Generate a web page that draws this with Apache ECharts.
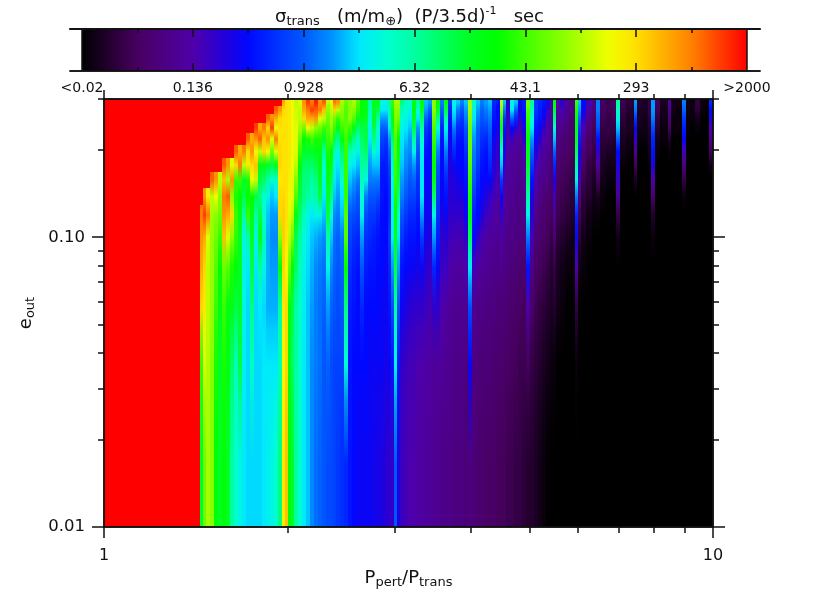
<!DOCTYPE html>
<html>
<head>
<meta charset="utf-8">
<title>sigma trans</title>
<script src="https://cdn.jsdelivr.net/npm/echarts@6/dist/echarts.min.js"></script>
<style>
  html, body { margin: 0; background: #fff; }
  #chart { width: 830px; height: 593px; }
</style>
</head>
<body>
<div id="chart"></div>
<script>
// tick labels
const colourbarLabels = ["<0.02", "0.136", "0.928", "6.32", "43.1", "293", ">2000"];
const periodMajor = [1, 10];
const periodMinor = [2, 3, 4, 5, 6, 7, 8, 9];
const eccMajor = [0.01, 0.1];
const eccMinor = [0.02, 0.03, 0.04, 0.05, 0.06, 0.07, 0.08, 0.09, 0.2, 0.3];

// colourbar, black to red (evenly spaced along the bar)
const colourStops = ["#000000", "#240030", "#480060", "#4c0084", "#5000a8", "#2800d4", "#0008ff", "#0030ff", "#0058ff",
  "#0090ff", "#00e8ff", "#00ffd0", "#00ffa0", "#00ff60", "#00ff20", "#00ff00", "#40ff00", "#78ff00", "#b0ff00",
  "#f0ff00", "#ffe000", "#ffb000", "#ff8000", "#ff4000", "#ff0000"];

// cell edges
const periodEdges = [1, 1.438, 1.454, 1.471, 1.493, 1.516, 1.539, 1.562, 1.586, 1.61, 1.635, 1.66, 1.685, 1.711, 1.737,
  1.763, 1.79, 1.818, 1.845, 1.874, 1.902, 1.931, 1.961, 1.983, 2.005, 2.028, 2.051, 2.083, 2.114, 2.146, 2.179,
  2.212, 2.246, 2.28, 2.315, 2.35, 2.377, 2.404, 2.44, 2.478, 2.515, 2.554, 2.593, 2.632, 2.672, 2.713, 2.755,
  2.797, 2.839, 2.883, 2.927, 2.96, 2.994, 3.028, 3.063, 3.109, 3.157, 3.205, 3.254, 3.303, 3.354, 3.405, 3.457,
  3.51, 3.563, 3.617, 3.673, 3.729, 3.786, 3.843, 3.902, 3.961, 4.022, 4.083, 4.145, 4.208, 4.273, 4.338, 4.404,
  4.471, 4.522, 4.574, 4.643, 4.714, 4.786, 4.859, 4.933, 5.008, 5.085, 5.162, 5.241, 5.321, 5.402, 5.464, 5.526,
  5.61, 5.717, 5.826, 5.937, 6.004, 6.073, 6.188, 6.33, 6.426, 6.524, 6.674, 6.827, 6.931, 7.037, 7.198, 7.419,
  7.504, 7.647, 7.823, 7.912, 8.033, 8.186, 8.374, 8.437, 8.533, 8.696, 8.895, 9.031, 9.169, 9.344, 9.522, 9.704,
  9.852, 10];
const eccEdges = [0.3, 0.283, 0.2655, 0.2472, 0.2284, 0.2076, 0.187, 0.1675, 0.1475, 0.129, 0.11, 0.0902, 0.0683,
  0.0478, 0.0274, 0.01];

// sigma as % along the log colourbar, one line per period column, top row first
// (0 = <0.02, 100 = >2000; rows left off are 0)
const sigmaLevels = [
  [100,100,100,100,100,100,100,100,100,100,100,100,100,100,100],
  [100,100,100,100,100,100,100,100,100,92,90,88,84,66,58],
  [100,100,100,100,100,100,100,100,90,96,88,84,82,78,70],
  [100,100,100,100,100,100,100,100,82,92,78,76,76,75,74],
  [100,100,100,100,100,100,100,94,76,74,73,73,73,72,72],
  [100,100,100,100,100,100,100,90,80,72,70,68,66,64,62],
  [100,100,100,100,100,100,100,76,72,70,66,62,60,58,58],
  [100,100,100,100,100,100,94,86,92,90,86,70,66,64,62],
  [100,100,100,100,100,100,90,74,94,88,78,68,60,60,58],
  [100,100,100,100,100,100,78,90,72,84,72,64,60,54,50],
  [100,100,100,100,100,94,84,66,64,66,66,62,56,48,46],
  [100,100,100,100,100,88,92,66,62,60,58,58,58,56,44],
  [100,100,100,100,100,92,76,58,56,50,44,44,44,43,42],
  [100,100,100,100,94,84,82,64,62,66,50,42,41,41,41],
  [100,100,100,100,88,90,84,80,62,60,58,56,52,47,41],
  [100,100,100,96,90,80,86,76,56,50,44,42,41,41,41],
  [100,100,100,88,94,76,60,56,52,56,60,50,42,41,41],
  [100,100,100,92,86,84,60,54,46,46,48,44,41,42,42],
  [100,100,94,84,90,80,58,50,44,40,39,39,39,42,43],
  [100,100,90,96,78,70,56,46,40,38,37,38,39,42,44],
  [100,94,88,80,92,78,60,46,42,38,37,38,39,42,46],
  [100,90,84,83,83,84,84,82,84,84,72,60,50,48,52],
  [88,84,83,83,83,83,83,83,84,85,85,84,82,80,82],
  [83,83,83,83,83,83,83,83,83,83,82,80,84,84,86],
  [82,82,82,82,82,82,82,81,80,78,76,70,62,60,62],
  [80,80,80,80,80,80,79,78,78,76,70,62,56,54,58],
  [76,77,77,78,78,78,76,72,68,60,56,54,50,50,50],
  [78,76,76,74,70,66,62,58,56,54,50,48,46,46,46],
  [90,88,84,70,62,58,54,52,52,48,45,44,43,42,42],
  [96,92,88,80,64,58,54,52,50,44,42,41,40,40,40],
  [92,96,88,76,66,58,54,50,48,42,40,39,38,37,37],
  [98,94,90,72,64,60,56,52,50,44,39,37,36,36,35],
  [90,92,78,70,64,60,60,58,56,44,38,36,35,35,34],
  [94,86,76,66,58,50,46,44,42,40,37,35,34,33,33],
  [76,72,70,68,66,64,62,60,58,56,50,44,38,34,32],
  [78,76,74,72,68,62,60,56,52,46,40,37,34,32,32],
  [92,84,70,66,56,48,44,42,40,37,35,34,33,31,31],
  [90,76,66,60,52,45,42,40,38,36,34,33,32,31,30],
  [74,72,70,66,60,54,50,46,42,40,36,34,33,31,29],
  [70,68,68,68,66,66,66,66,66,68,68,62,52,45,28],
  [72,72,72,66,58,48,44,40,37,33,31,29,27,26,26],
  [74,72,68,60,52,46,42,38,35,32,29,27,26,25,25],
  [68,66,60,54,48,44,40,36,33,31,28,26,25,25,24],
  [62,62,60,56,54,52,50,48,46,44,38,33,28,25,24],
  [60,60,58,56,56,54,50,44,36,32,29,27,25,25,24],
  [50,48,46,44,42,40,38,36,33,30,28,26,25,24,24],
  [58,58,58,56,52,46,40,36,33,30,27,26,25,24,23],
  [60,56,50,46,44,42,40,36,32,28,26,25,25,24,23],
  [45,42,38,34,31,29,27,26,26,25,25,25,24,24,22],
  [44,42,38,34,30,28,27,26,25,25,25,24,24,23,21],
  [50,48,46,42,38,34,31,29,28,28,30,28,26,24,20],
  [66,64,62,58,54,50,48,46,44,44,44,38,32,26,20],
  [74,72,72,70,68,68,66,66,64,62,60,56,50,44,33],
  [74,72,70,66,62,60,58,56,52,46,42,38,32,26,22],
  [52,48,46,44,42,41,40,38,36,33,30,26,24,20,19],
  [48,46,44,42,40,38,37,35,33,30,27,25,22,19,18],
  [46,44,42,40,38,37,35,33,31,28,26,24,21,18,17],
  [60,60,58,56,50,44,38,34,31,28,26,24,20,18,17],
  [50,46,42,38,35,33,31,29,28,26,25,23,20,17,16],
  [62,58,54,50,46,44,42,42,42,38,30,24,20,17,16],
  [40,38,34,30,28,26,25,25,24,24,23,21,19,16,15],
  [38,34,30,28,26,25,25,24,24,23,22,20,18,16,15],
  [72,72,70,68,66,64,62,60,54,44,38,28,20,15,14],
  [62,58,52,46,40,36,33,31,30,29,27,24,20,15,14],
  [36,34,31,28,26,25,25,24,24,22,20,19,17,15,13],
  [60,56,50,44,40,36,32,28,26,24,21,19,16,14,13],
  [30,28,26,25,24,23,22,21,21,20,19,17,15,14,13],
  [44,42,40,36,32,28,24,22,21,20,18,16,14,13,12],
  [40,36,32,28,26,25,25,23,22,20,18,16,14,13,12],
  [36,33,30,28,26,25,25,24,22,20,18,16,14,13,12],
  [40,38,36,33,31,29,27,26,25,24,20,17,14,12,11],
  [74,74,72,70,70,70,68,66,64,60,55,42,32,24,12],
  [46,44,42,40,38,36,35,33,30,27,25,18,14,12,11],
  [40,38,36,34,33,32,30,28,26,25,20,16,13,12,10],
  [36,34,33,31,29,27,26,25,24,22,18,15,13,11,10],
  [38,36,34,31,28,26,25,24,22,19,16,14,12,11,9],
  [40,38,36,34,32,30,28,25,20,18,15,14,12,11,9],
  [28,27,26,25,24,22,21,20,18,16,15,13,12,10,9],
  [26,25,24,23,21,20,19,18,16,15,14,13,11,10,8],
  [76,72,66,60,54,46,40,30,24,20,16,14,11,10,8],
  [40,36,30,26,24,22,20,18,16,15,14,12,11,9,8],
  [20,20,19,18,17,16,15,15,14,14,13,12,10,9,7],
  [44,42,34,25,19,16,15,15,14,13,13,11,10,8,7],
  [40,34,28,21,16,15,14,14,13,13,12,11,9,8,6],
  [24,23,20,18,15,14,14,13,13,12,12,10,9,7,6],
  [27,26,25,23,20,18,16,15,14,13,12,10,8,7,5],
  [70,68,66,64,62,60,58,54,50,44,36,26,16,8,4],
  [50,48,46,42,38,34,30,26,22,20,18,13,10,6,4],
  [30,30,28,26,24,21,19,17,15,13,11,9,7,5,3],
  [28,27,26,24,21,18,16,14,13,11,10,8,6,4,2],
  [26,25,23,20,17,15,14,13,11,10,9,7,5,3,1],
  [22,20,18,16,15,14,13,12,10,9,8,6,4,2],
  [18,16,15,14,13,12,11,10,9,8,6,4,3,1],
  [62,58,52,46,40,34,28,22,18,14,10,6,4,1],
  [17,15,14,13,12,11,10,9,8,7,5,3,2],
  [20,18,15,13,11,10,9,8,7,6,4,2,1],
  [14,13,12,11,10,9,8,7,6,5,3,1],
  [13,12,11,10,9,8,7,6,5,4,2,1],
  [66,64,62,60,58,55,50,44,36,28,24,16,6,1],
  [40,38,34,30,27,25,22,18,12,8,5,2],
  [25,24,20,17,14,11,9,7,5,4,2,1],
  [18,15,13,11,9,8,6,5,4,2,1],
  [12,11,9,8,7,6,5,3,2,1],
  [36,36,34,32,26,20,15,8,3,1],
  [8,8,7,6,5,4,3,2,1],
  [7,7,6,6,5,3,2,1],
  [8,8,7,6,4,3,2,1],
  [50,48,44,40,34,25,22,19,14,6,2],
  [7,6,5,4,3,2,1],
  [5,4,3,3,2,1],
  [38,36,30,24,20,14,8,3],
  [4,3,3,2,1],
  [3,3,2,2,1],
  [6,6,5,4,3,2,1],
  [38,38,36,32,28,26,22,16,10,4,1],
  [8,7,5,4,2,1],
  [3,2,2,1,1],
  [3,3,2,1,1],
  [15,14,11,8,4,1],
  [2,2,1,1],
  [2,1,1,1],
  [36,34,30,27,24,18,12,6,1],
  [2,2,1,1],
  [1,1,1],
  [6,5,2,1],
  [1,1],
  [1],
  [28,25,22,18,13,8,2]
];

if (sigmaLevels.length !== periodEdges.length - 1) {
  console.error("columns", sigmaLevels.length, "edges", periodEdges.length);
}

const rowCount = eccEdges.length - 1;
const cells = [];
sigmaLevels.forEach((col, i) => {
  for (let j = 0; j < rowCount; j++) {
    cells.push([periodEdges[i], periodEdges[i + 1], eccEdges[j + 1], eccEdges[j], col[j] || 0, j]);
  }
});

const axisColor = "#111";
const font = "DejaVu Sans";

// tick-only axes on the exponent of the log scales
function tickAxis(pos, gridIndex, min, max, values, length, extra) {
  return Object.assign({
    type: "value",
    gridIndex: gridIndex,
    position: pos,
    min: min,
    max: max,
    scale: true,
    splitLine: { show: false },
    axisLine: { show: true, onZero: false, lineStyle: { color: axisColor, width: 1.5 } },
    axisTick: { show: true, length: length, customValues: values, lineStyle: { color: axisColor, width: 1.5 } },
    axisLabel: { show: false },
    z: 6
  }, extra || {});
}

const logX = periodMinor.map(v => Math.log10(v));
const logXMajor = periodMajor.map(v => Math.log10(v));
const logY = eccMinor.map(v => Math.log10(v));
const logYMajor = eccMajor.map(v => Math.log10(v));
const yMin = Math.log10(0.01);
const yMax = Math.log10(0.3);

const subStyle = { fontFamily: font, fontSize: 13, fontWeight: "normal", lineHeight: 22, verticalAlign: "bottom", color: "#111" };
const baseStyle = { fontFamily: font, fontSize: 18, fontWeight: "normal", lineHeight: 22, verticalAlign: "middle", color: "#111" };
const supStyle = { fontFamily: font, fontSize: 11, fontWeight: "normal", lineHeight: 22, verticalAlign: "top", color: "#111" };

// colourbar axis runs past the bar on both sides
const barLo = -0.2165;
const barHi = 12.2346;
const barEven = [0, 2, 4, 6, 8, 10, 12];
const barOdd = [1, 3, 5, 7, 9, 11];

const option = {
  backgroundColor: "#fff",
  animation: false,
  title: {
    left: 275,
    top: 6,
    padding: 0,
    text: "{b|σ}{s|trans}{b|   (m/m}{s|⊕}{b|)  (P/3.5d)}{u|-1}{b|   sec}",
    textStyle: { fontWeight: "normal", rich: { b: baseStyle, s: subStyle, u: supStyle } }
  },
  grid: [
    { left: 104, top: 99, width: 609, height: 428, show: false, outerBoundsMode: "none" },
    { left: 70, top: 29, width: 690, height: 42, show: false, outerBoundsMode: "none" }
  ],
  visualMap: {
    type: "continuous",
    min: 0,
    max: 100,
    dimension: 4,
    seriesIndex: 0,
    orient: "horizontal",
    left: 82,
    top: 29,
    padding: 0,
    itemWidth: 42,
    itemHeight: 665,
    calculable: false,
    realtime: false,
    hoverLink: false,
    showLabel: false,
    text: null,
    inRange: { color: colourStops }
  },
  xAxis: [
    { type: "log", logBase: 10, gridIndex: 0, min: 1, max: 10, show: false },
    tickAxis("bottom", 0, 0, 1, logXMajor, 11, {
      name: "{b|P}{s|pert}{b|/P}{s|trans}",
      nameLocation: "middle",
      nameGap: 40,
      nameTextStyle: { rich: { b: baseStyle, s: subStyle } },
      axisLabel: {
        show: true,
        customValues: logXMajor,
        margin: 21,
        fontFamily: font,
        fontSize: 16,
        color: "#111",
        formatter: v => String(Math.round(Math.pow(10, v)))
      }
    }),
    tickAxis("bottom", 0, 0, 1, logX, 6),
    tickAxis("top", 0, 0, 1, logXMajor, 9),
    tickAxis("top", 0, 0, 1, logX, 5),
    tickAxis("top", 1, barLo, barHi, barEven, -8),
    tickAxis("top", 1, barLo, barHi, barOdd, -4),
    tickAxis("top", 1, barLo, barHi, [0, 12], -42),
    tickAxis("bottom", 1, barLo, barHi, barEven, -8, {
      axisLabel: {
        show: true,
        customValues: barEven,
        margin: 10,
        fontFamily: font,
        fontSize: 14,
        color: "#111",
        formatter: v => colourbarLabels[Math.round(v / 2)]
      }
    }),
    tickAxis("bottom", 1, barLo, barHi, barOdd, -4)
  ],
  yAxis: [
    { type: "log", logBase: 10, gridIndex: 0, min: 0.01, max: 0.3, show: false },
    tickAxis("left", 0, yMin, yMax, logYMajor, 12, {
      name: "{b|e}{s|out}",
      nameLocation: "middle",
      nameGap: 64,
      nameRotate: 90,
      nameTextStyle: { rich: { b: baseStyle, s: subStyle } },
      axisLabel: {
        show: true,
        customValues: logYMajor,
        margin: 19,
        fontFamily: font,
        fontSize: 16.5,
        color: "#111",
        formatter: v => Math.pow(10, v).toFixed(2)
      }
    }),
    tickAxis("left", 0, yMin, yMax, logY, 6),
    tickAxis("right", 0, yMin, yMax, logYMajor, 12),
    tickAxis("right", 0, yMin, yMax, logY, 6),
    { type: "value", gridIndex: 1, show: false, min: 0, max: 1 }
  ],
  series: [
    {
      type: "custom",
      xAxisIndex: 0,
      yAxisIndex: 0,
      coordinateSystem: "cartesian2d",
      encode: { x: [0, 1], y: [2, 3] },
      clip: true,
      silent: true,
      data: cells,
      renderItem: function (params, api) {
        const a = api.coord([api.value(0), api.value(3)]);
        const b = api.coord([api.value(1), api.value(2)]);
        const x0 = Math.round(a[0]);
        const y0 = Math.round(a[1]);
        const idx = params.dataIndexInside;
        const row = api.value(5);
        const c = api.visual("color");
        // soften the seam between rows of a column, the edge of the red area stays hard
        const blend = other => (api.value(4) >= 100 || cells[other][4] >= 100)
          ? c : echarts.color.lerp(0.5, [c, api.visual("color", other)]);
        const up = row > 0 ? blend(idx - 1) : c;
        const down = row < rowCount - 1 ? blend(idx + 1) : c;
        return {
          type: "rect",
          shape: { x: x0, y: y0, width: Math.round(b[0]) - x0, height: Math.round(b[1]) - y0 },
          style: {
            fill: new echarts.graphic.LinearGradient(0, 0, 0, 1, [
              { offset: 0, color: up },
              { offset: 0.5, color: c },
              { offset: 1, color: down }
            ])
          }
        };
      }
    }
  ]
};

const chart = echarts.init(document.getElementById("chart"));
chart.setOption(option);
</script>
</body>
</html>
